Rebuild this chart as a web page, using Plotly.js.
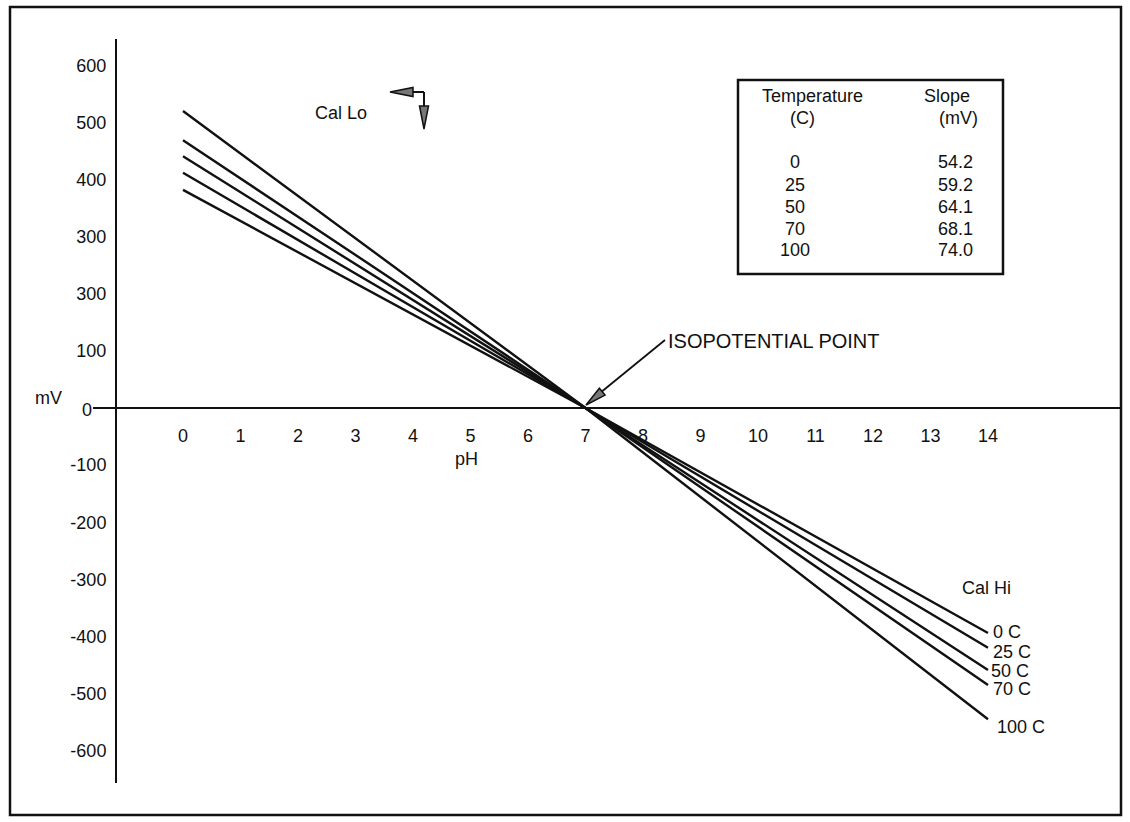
<!DOCTYPE html>
<html><head><meta charset="utf-8">
<script src="https://cdn.plot.ly/plotly-3.0.1.min.js"></script>
<style>html,body{margin:0;padding:0;background:#fff;} #chart{width:1130px;height:822px;}</style>
</head><body><div id="chart"></div>
<script>
// ---- data ----
const pH = [0, 7, 14];
const seriesNames = ['0 C', '25 C', '50 C', '70 C', '100 C'];
const mV_0C   = [382, 0, -394];
const mV_25C  = [412, 0, -420];
const mV_50C  = [441, 0, -459];
const mV_70C  = [469, 0, -485];
const mV_100C = [520, 0, -545];
const tableTemps  = ['0', '25', '50', '70', '100'];
const tableSlopes = ['54.2', '59.2', '64.1', '68.1', '74.0'];
const xTickVals = [0,1,2,3,4,5,6,7,8,9,10,11,12,13,14];
const yTickVals = [600,500,400,300,200,100,0,-100,-200,-300,-400,-500,-600];
const yTickText = ['600','500','400','300','300','100','','-100','-200','-300','-400','-500','-600'];

// ---- layout geometry (pixels) ----
const L = 117, R = 1121, T = 39, B = 783;
const W = R - L, H = B - T;
const FONT = 'Liberation Sans, Arial, Helvetica, sans-serif';
const FS = 18;
const INK = '#111';
function px(x, y) { return { x: (x - L) / W, y: (B - y) / H }; }

const xmin = (L - 183) / 57.5, xmax = xmin + W / 57.5;
const ymax = (408 - T) / 0.571, ymin = (408 - B) / 0.571;

const allSeries = [mV_0C, mV_25C, mV_50C, mV_70C, mV_100C];
const traces = allSeries.map((ys, i) => ({
  type: 'scatter', mode: 'lines', x: pH, y: ys, name: seriesNames[i],
  line: { color: INK, width: 2.4 }, hoverinfo: 'x+y+name'
}));

const annotations = [];
function txt(text, x, y, xanchor, size) {
  const p = px(x, y);
  annotations.push({ xref: 'paper', yref: 'paper', x: p.x, y: p.y, text: text,
    showarrow: false, xanchor: xanchor || 'center', yanchor: 'middle',
    font: { family: FONT, size: size || FS, color: INK } });
}
// series end labels
const labelPix = [[991, 632], [991, 652], [989, 671], [991, 689], [995, 727]];
seriesNames.forEach((n, i) => txt(n, labelPix[i][0], labelPix[i][1], 'left'));
txt('Cal Hi', 960, 588, 'left');
txt('Cal Lo', 341, 113, 'center');
txt('mV', 48, 398, 'center');
txt('0', 87, 410, 'center');
txt('pH', 466, 459, 'center');
txt('ISOPOTENTIAL POINT', 666, 341, 'left', 20);
// table
txt('Temperature', 812, 96);
txt('(C)', 802, 118);
txt('Slope', 947, 96);
txt('(mV)', 958, 118);
const rowY = [162, 185, 207, 229, 250];
tableTemps.forEach((t, i) => txt(t, 795, rowY[i], 'center'));
tableSlopes.forEach((s, i) => txt(s, 975, rowY[i], 'right'));

// shapes
const shapes = [];
function line(x0, y0, x1, y1, w) {
  const a = px(x0, y0), b = px(x1, y1);
  shapes.push({ type: 'line', xref: 'paper', yref: 'paper', x0: a.x, y0: a.y, x1: b.x, y1: b.y,
    line: { color: INK, width: w || 2 } });
}
function head(tx, ty, dx, dy, len, hw) {
  const n = Math.hypot(dx, dy); dx /= n; dy /= n;
  const bx = tx + dx * len, by = ty + dy * len;
  const ppx = -dy * hw, ppy = dx * hw;
  const pts = [[tx, ty], [bx + ppx, by + ppy], [bx - ppx, by - ppy]].map(p => px(p[0], p[1]));
  shapes.push({ type: 'path', xref: 'paper', yref: 'paper',
    path: 'M' + pts.map(p => p.x + ',' + p.y).join(' L') + ' Z',
    fillcolor: '#777', line: { color: INK, width: 1.5 } });
}
(function () {
  const a = px(10, 7), b = px(1121, 815);
  shapes.push({ type: 'rect', xref: 'paper', yref: 'paper', x0: a.x, y0: a.y, x1: b.x, y1: b.y,
    line: { color: INK, width: 2.5 } });
  const c = px(738, 80), d = px(1003, 274);
  shapes.push({ type: 'rect', xref: 'paper', yref: 'paper', x0: c.x, y0: c.y, x1: d.x, y1: d.y,
    line: { color: INK, width: 2.5 } });
})();
// zero-line extension to the left of the y axis
line(93, 408, L, 408, 2);
// Cal Lo arrows
line(410, 92, 424, 92, 2);
line(424, 92, 424, 108, 2);
head(390, 92, 1, 0, 23, 4.5);
head(424, 129, 0, -1, 23, 4.5);
// isopotential arrow
line(665, 340, 600, 393, 1.8);
head(586, 405, 665 - 586, 340 - 405, 21, 4.5);

const layout = {
  width: 1130, height: 822,
  margin: { l: L, r: 1130 - R, t: T, b: 822 - B, pad: 0 },
  paper_bgcolor: '#fff', plot_bgcolor: '#fff',
  showlegend: false,
  font: { family: FONT, size: FS, color: INK },
  xaxis: {
    range: [xmin, xmax], tickvals: xTickVals, ticktext: xTickVals.map(String),
    showgrid: false, zeroline: false, showline: false, ticks: '',
    anchor: 'free', position: (0 - ymin) / (ymax - ymin), ticklabelstandoff: 15,
    tickfont: { family: FONT, size: FS, color: INK }
  },
  yaxis: {
    range: [ymin, ymax], tickvals: yTickVals, ticktext: yTickText,
    showgrid: false, zeroline: true, zerolinecolor: INK, zerolinewidth: 2,
    showline: true, linecolor: INK, linewidth: 2, ticks: '', ticklabelstandoff: 5,
    tickfont: { family: FONT, size: FS, color: INK }
  },
  annotations: annotations,
  shapes: shapes
};
Plotly.newPlot('chart', traces, layout, { displayModeBar: false, staticPlot: true });
</script>
</body></html>
